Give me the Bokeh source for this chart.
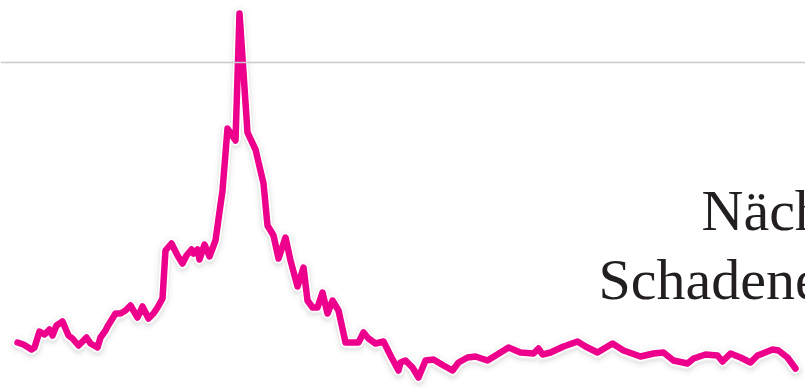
from bokeh.plotting import figure
from bokeh.embed import file_html
from bokeh.resources import INLINE
from bokeh.models import Span, Range1d
from bokeh.core.properties import value

# Series (x: time position, y: level)
x_vals = [17, 23, 31, 34, 39, 44, 49, 52, 56, 62, 68, 72, 78, 86, 90, 97, 100, 105, 107,
          115, 120, 125, 130, 137, 142, 148, 153, 157, 162, 165, 171, 177, 182, 186, 191,
          193, 197, 199, 204, 209, 215, 222, 227, 235, 239, 247, 255, 263, 267, 273, 278,
          285, 290, 297, 303, 307, 312, 317, 322, 327, 332, 338, 345, 358, 363, 368, 375,
          383, 390, 398, 400, 405, 412, 418, 425, 433, 443, 452, 458, 467, 475, 487, 500,
          508, 520, 533, 538, 542, 550, 563, 577, 585, 597, 612, 623, 640, 653, 663, 673,
          687, 693, 705, 717, 722, 730, 740, 750, 757, 772, 778, 787, 795]
y_pix = [342, 344, 349, 347, 331, 334, 329, 335, 325, 321, 335, 338, 345, 337, 343, 347, 337,
         330, 326, 313, 313, 310, 305, 317, 306, 318, 313, 307, 298, 250, 243, 255, 263, 255,
         249, 253, 249, 259, 244, 256, 240, 190, 128, 140, 13, 132, 149, 183, 225, 235, 258,
         237, 260, 286, 267, 300, 307, 307, 292, 313, 300, 310, 342, 342, 332, 338, 343, 341,
         355, 370, 362, 360, 367, 377, 360, 359, 365, 370, 362, 357, 356, 360, 352, 347, 352,
         353, 348, 354, 352, 346, 341, 346, 352, 343, 350, 356, 353, 352, 360, 363, 358, 354,
         355, 361, 353, 357, 362, 355, 349, 350, 357, 368]
y_vals = [388 - v for v in y_pix]
ref_level = 388 - 62
label_lines = ["Näch", "Schadene"]

W, H = 805, 388
p = figure(width=W, height=H, output_backend="svg", toolbar_location=None,
           x_range=Range1d(0, W), y_range=Range1d(0, H), min_border=0)
p.axis.visible = False
p.grid.visible = False
p.outline_line_color = None
p.background_fill_color = "white"
p.border_fill_color = "white"

p.add_layout(Span(location=ref_level, dimension="width", line_color="#c9c9c9", line_width=1.5))

# soft shadow
for w, a in [(20, 0.03), (15, 0.05), (12, 0.08)]:
    p.line(x_vals, [y - 2 for y in y_vals], line_width=w, line_color="#808080",
           line_alpha=a, line_join="round", line_cap="round")
# white halo
p.line(x_vals, y_vals, line_width=10, line_color="white", line_join="round", line_cap="round")
# main line
p.line(x_vals, y_vals, line_width=6.5, line_color="#EC008C", line_join="round", line_cap="round")

p.text(x=[701, 598], y=[388 - 210, 388 - 279], text=label_lines,
       text_font=value("Liberation Serif"), text_font_size="58px",
       text_color="#231f20", text_baseline="alphabetic", text_align="left")

open("out.html", "w").write(file_html(p, INLINE))
